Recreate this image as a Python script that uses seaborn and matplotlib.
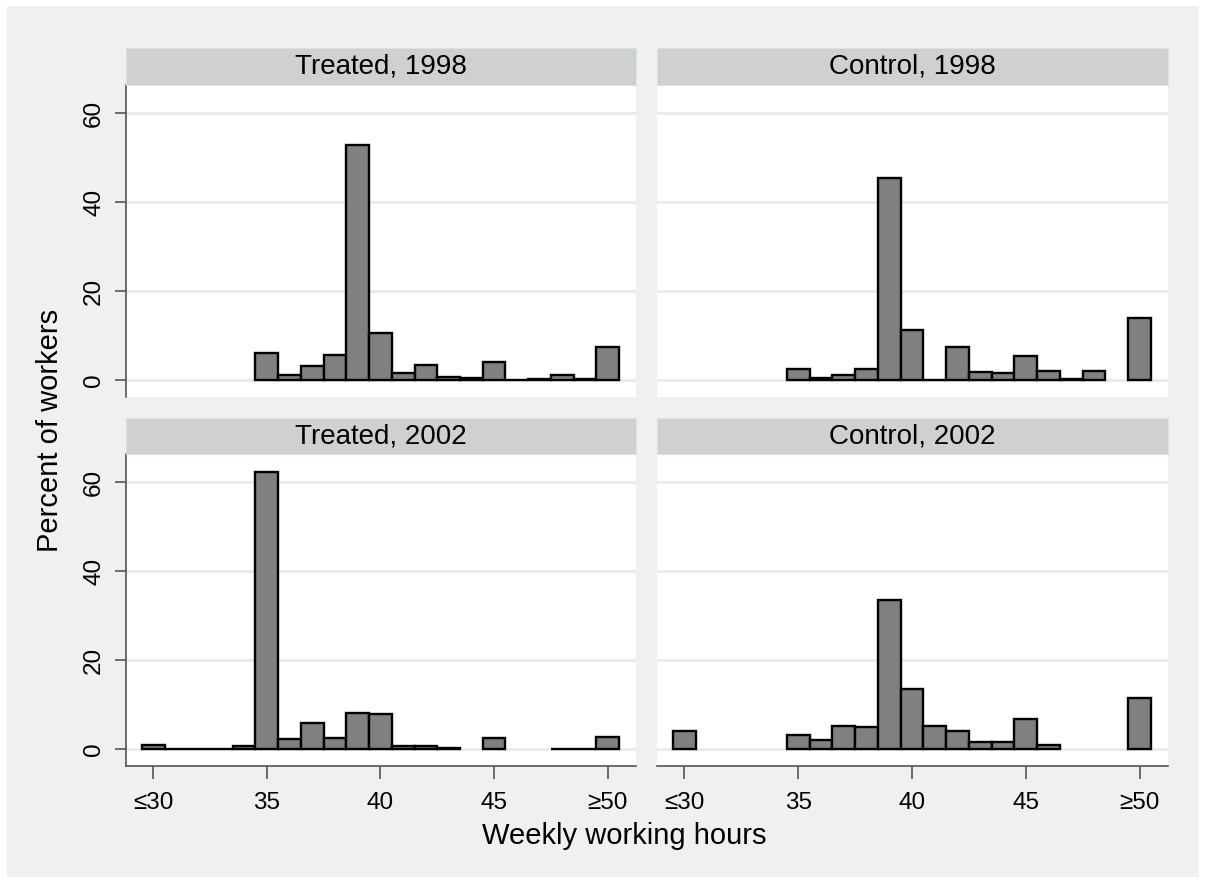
import numpy as np
import pandas as pd
import matplotlib
matplotlib.use("Agg")
import matplotlib.pyplot as plt
import seaborn as sns
from matplotlib.patches import Rectangle

# data (percent of workers per weekly hour bin)
hours = list(range(30, 51))
tick_pos = [30, 35, 40, 45, 50]
tick_lab = ['≤30', '35', '40', '45', '≥50']
y_ticks = [0, 20, 40, 60]

treated_1998 = [None, None, None, None, None, 6.0, 1.1, 3.1, 5.7, 52.8, 10.6,
                1.6, 3.4, 0.7, 0.4, 4.1, 0.1, 0.2, 1.1, 0.2, 7.4]
control_1998 = [None, None, None, None, None, 2.4, 0.4, 1.1, 2.4, 45.5, 11.2,
                0.1, 7.4, 1.8, 1.6, 5.4, 2.0, 0.3, 2.0, None, 14.0]
treated_2002 = [1.0, 0.1, 0.1, 0.1, 0.6, 62.4, 2.3, 5.8, 2.5, 8.1, 7.9,
                0.6, 0.8, 0.2, None, 2.4, None, None, 0.1, 0.1, 2.8]
control_2002 = [4.0, None, None, None, None, 3.2, 2.1, 5.3, 4.9, 33.5, 13.6,
                5.1, 4.0, 1.7, 1.7, 6.7, 1.0, None, None, None, 11.6]

panels = {('Treated', '1998'): treated_1998, ('Control', '1998'): control_1998,
          ('Treated', '2002'): treated_2002, ('Control', '2002'): control_2002}

rows = []
for (grp, yr), vals in panels.items():
    for h, v in zip(hours, vals):
        rows.append({'group': grp, 'year': yr, 'hours': h, 'pct': v})
df = pd.DataFrame(rows).dropna()

sns.set_theme(style="white")
plt.rcParams['font.family'] = ['Liberation Sans', 'DejaVu Sans']
plt.rcParams['text.color'] = 'black'
plt.rcParams['xtick.labelcolor'] = 'black'
plt.rcParams['ytick.labelcolor'] = 'black'

W, H = 1205, 880
g = sns.FacetGrid(df, row="year", col="group", row_order=['1998', '2002'],
                  col_order=['Treated', 'Control'], sharex=True, sharey=True,
                  height=4.4, aspect=1.37, despine=False)
g.map_dataframe(plt.bar, x="hours", height="pct", width=1.0, color="#808080",
                edgecolor="black", linewidth=1.7, zorder=3)
g.set_titles("")
g.set_axis_labels("", "")

fig = g.figure
fig.set_size_inches(W / 100, H / 100)
fig.set_dpi(100)
fig.patch.set_facecolor("white")
fig.add_artist(Rectangle((7 / W, 1 - 877 / H), 1192 / W, 871 / H, transform=fig.transFigure,
                         facecolor="#f0f0f0", edgecolor="none", zorder=-10))

col_x = {'Treated': (126, 510), 'Control': (657, 511)}
row_y = {'1998': (48, 85, 397), '2002': (418, 454, 766)}
axis_col = "#555555"

for i, yr in enumerate(['1998', '2002']):
    for j, grp in enumerate(['Treated', 'Control']):
        ax = g.axes[i, j]
        x0, w = col_x[grp]
        s0, p0, p1 = row_y[yr]
        ax.set_position([x0 / W, 1 - p1 / H, w / W, (p1 - p0) / H])
        ax.set_facecolor("white")
        ax.set_xlim(28.8, 51.25)
        ax.set_ylim(-3.8, 66.4)
        ax.set_axisbelow(True)
        ax.yaxis.grid(True, color="#e8e8e8", linewidth=1.8)
        ax.xaxis.grid(False)
        for sp in ax.spines.values():
            sp.set_visible(False)
        # strip
        fig.add_artist(Rectangle((x0 / W, 1 - p0 / H), w / W, (p0 - s0) / H,
                                 transform=fig.transFigure, facecolor="#d0d0d0",
                                 edgecolor="#d6e2ea", linewidth=0.8))
        fig.text((x0 + w / 2) / W, 1 - ((s0 + p0) / 2) / H, f"{grp}, {yr}",
                 ha="center", va="center", fontsize=20, color="black")
        ax.set_yticks(y_ticks)
        ax.set_xticks(tick_pos)
        if j == 0:
            ax.spines['left'].set_visible(True)
            ax.spines['left'].set_color(axis_col)
            ax.spines['left'].set_linewidth(1.2)
            ax.tick_params(axis='y', left=True, length=8, width=1.2, color=axis_col,
                           pad=7, labelsize=17.5, labelrotation=90, labelcolor="black")
            for lab in ax.get_yticklabels():
                lab.set_va("center")
        else:
            ax.tick_params(axis='y', left=False, labelleft=False)
        if i == 1:
            ax.spines['bottom'].set_visible(True)
            ax.spines['bottom'].set_color(axis_col)
            ax.spines['bottom'].set_linewidth(1.2)
            ax.set_xticklabels(tick_lab)
            ax.tick_params(axis='x', bottom=True, length=9, width=1.2, color=axis_col,
                           pad=10, labelsize=17.5, labelcolor="black")
        else:
            ax.tick_params(axis='x', bottom=False, labelbottom=False)

fig.text(50 / W, 1 - 430 / H, "Percent of workers", rotation=90, ha="center",
         va="center", fontsize=21, color="black")
fig.text(624 / W, 1 - 836 / H, "Weekly working hours", ha="center", va="center",
         fontsize=21, color="black")

fig.savefig("out.png", dpi=100, facecolor=fig.get_facecolor())
